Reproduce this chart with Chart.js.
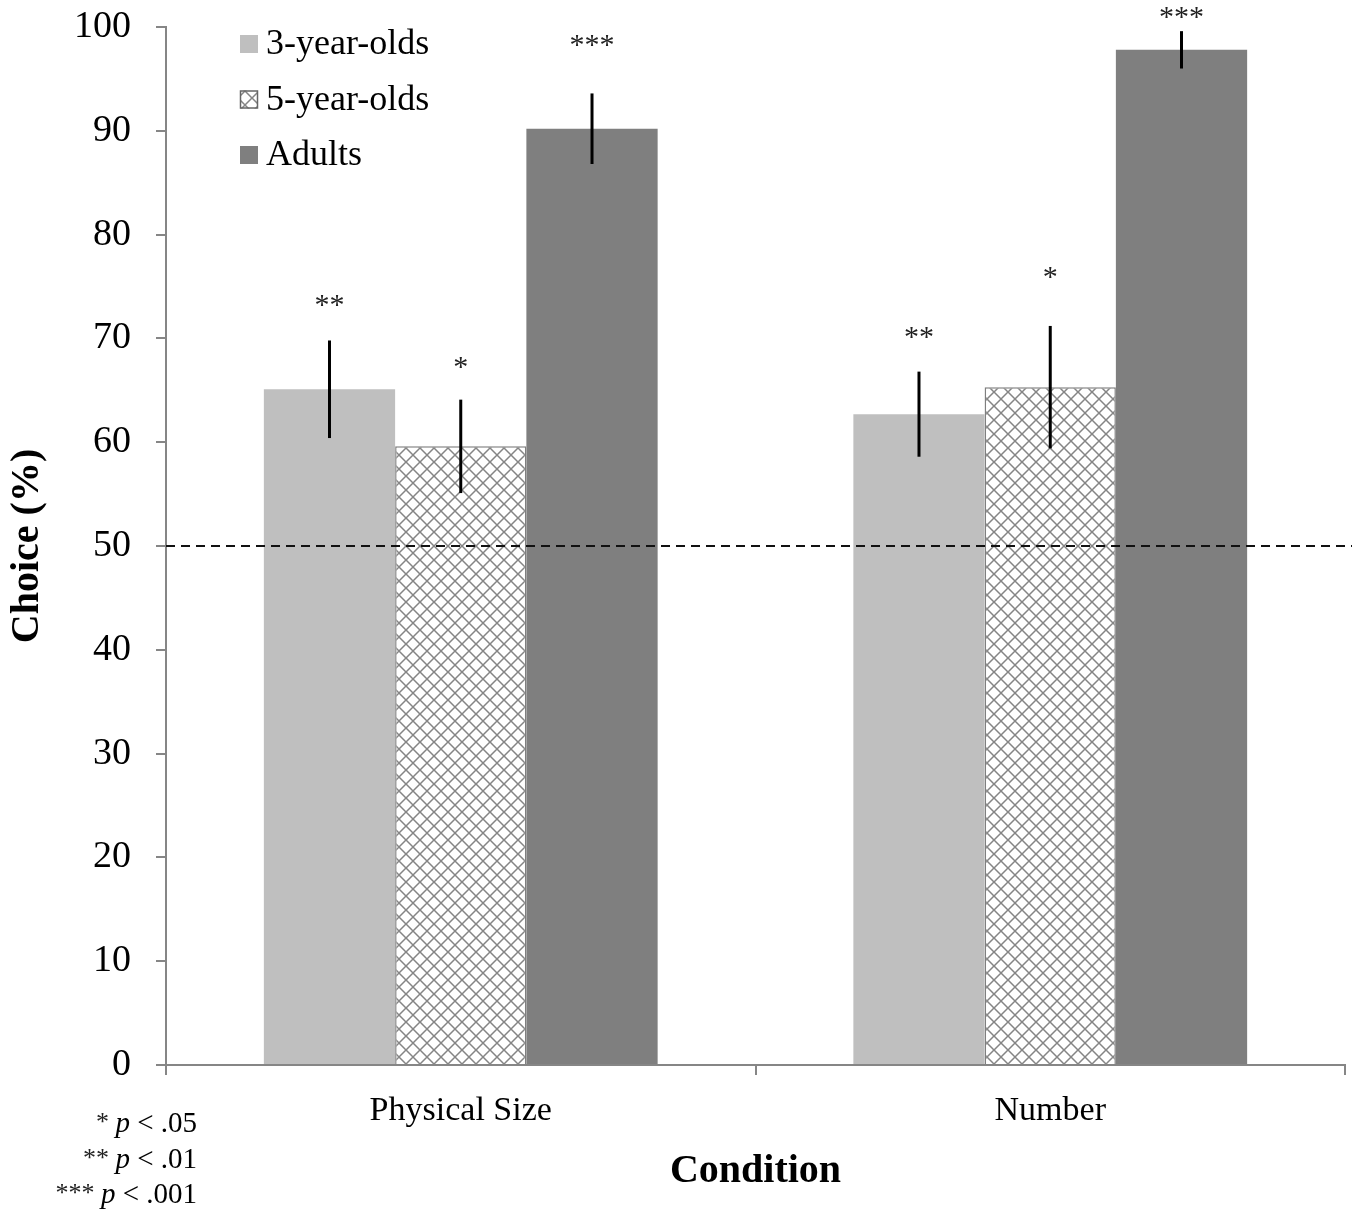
<!DOCTYPE html>
<html>
<head>
<meta charset="utf-8">
<script src="https://cdn.jsdelivr.net/npm/chart.js@4.4.1/dist/chart.umd.min.js"></script>
<style>
  html, body { margin: 0; padding: 0; background: #fff; }
  #wrap { width: 1360px; height: 1216px; }
</style>
</head>
<body>
<div id="wrap"><canvas id="c" width="1360" height="1216"></canvas></div>
<script>
// data
const conditions = ['Physical Size', 'Number'];
const groupNames = ['3-year-olds', '5-year-olds', 'Adults'];
const choice3 = [65.1, 62.7];
const choice5 = [59.6, 65.3];
const choiceAdults = [90.2, 97.8];
const err3 = [4.7, 4.1];
const err5 = [4.5, 5.9];
const errAdults = [3.4, 1.8];
const sig3 = ['**', '**'];
const sig5 = ['*', '*'];
const sigAdults = ['***', '***'];
// level (in %) where the significance stars sit
const sigLevel3 = [73.8, 70.7];
const sigLevel5 = [67.8, 76.5];
const sigLevelAdults = [98.8, 101.5];
const chanceLevel = 50;
const footStars = ['*', '**', '***'];
const footP = ['.05', '.01', '.001'];

const SERIF = '"Liberation Serif", "DejaVu Serif", serif';

function makeHatch() {
  const c = document.createElement('canvas');
  c.width = 14; c.height = 14;
  const g = c.getContext('2d');
  g.fillStyle = '#fff';
  g.fillRect(0, 0, 14, 14);
  g.strokeStyle = '#858585';
  g.lineWidth = 1.5;
  g.beginPath();
  g.moveTo(-1, -1); g.lineTo(15, 15);
  g.moveTo(15, -1); g.lineTo(-1, 15);
  g.stroke();
  return g.createPattern(c, 'repeat');
}
const hatch = makeHatch();

const errorBars = {
  id: 'errorBars',
  afterDatasetsDraw(chart) {
    const { ctx, scales: { y }, chartArea } = chart;
    // chance line
    const y50 = y.getPixelForValue(chanceLevel);
    ctx.save();
    ctx.strokeStyle = '#111';
    ctx.lineWidth = 2;
    ctx.setLineDash([9, 6]);
    ctx.beginPath();
    ctx.moveTo(chartArea.left, y50);
    ctx.lineTo(chartArea.right + 7, y50);
    ctx.stroke();
    ctx.restore();

    ctx.save();
    chart.data.datasets.forEach((ds, di) => {
      const meta = chart.getDatasetMeta(di);
      meta.data.forEach((bar, i) => {
        const v = ds.data[i], e = ds.err[i];
        ctx.strokeStyle = '#000';
        ctx.lineWidth = 3;
        ctx.beginPath();
        ctx.moveTo(bar.x, y.getPixelForValue(v + e));
        ctx.lineTo(bar.x, y.getPixelForValue(v - e));
        ctx.stroke();
        ctx.fillStyle = '#222';
        ctx.font = '30px ' + SERIF;
        ctx.textAlign = 'center';
        ctx.textBaseline = 'alphabetic';
        ctx.fillText(ds.sig[i], bar.x, y.getPixelForValue(ds.sigLevel[i]) + 15);
      });
    });
    ctx.restore();
  }
};

const sideText = {
  id: 'sideText',
  afterDraw(chart) {
    const { ctx } = chart;
    ctx.save();
    // legend
    ctx.textBaseline = 'middle';
    ctx.textAlign = 'left';
    ctx.font = '36px ' + SERIF;
    chart.data.datasets.forEach((ds, i) => {
      const cy = 44 + i * 55.5;
      ctx.fillStyle = ds.backgroundColor;
      ctx.fillRect(240, cy - 9, 18, 18);
      if (ds.borderWidth) {
        ctx.strokeStyle = '#666';
        ctx.lineWidth = 1.5;
        ctx.strokeRect(240.5, cy - 8.5, 17, 17);
      }
      ctx.fillStyle = '#000';
      ctx.fillText(ds.label, 266, cy + 1);
    });
    // footnotes
    ctx.textBaseline = 'alphabetic';
    const fs = 29;
    footStars.forEach((s, i) => {
      const by = 1132 + i * 35.5;
      let x = 197;
      const rest = ' < ' + footP[i];
      ctx.font = fs + 'px ' + SERIF;
      ctx.fillStyle = '#000';
      ctx.textAlign = 'right';
      ctx.fillText(rest, x, by);
      x -= ctx.measureText(rest).width;
      ctx.font = 'italic ' + fs + 'px ' + SERIF;
      ctx.fillText('p', x, by);
      x -= ctx.measureText('p').width;
      ctx.font = '26px ' + SERIF;
      ctx.fillStyle = '#222';
      ctx.fillText(s + ' ', x, by - 2);
    });
    ctx.restore();
  }
};

new Chart(document.getElementById('c'), {
  type: 'bar',
  data: {
    labels: conditions,
    datasets: [
      { label: groupNames[0], data: choice3, err: err3, sig: sig3, sigLevel: sigLevel3,
        backgroundColor: '#bfbfbf', borderWidth: 0 },
      { label: groupNames[1], data: choice5, err: err5, sig: sig5, sigLevel: sigLevel5,
        backgroundColor: hatch, borderColor: '#7f7f7f', borderWidth: 1.5 },
      { label: groupNames[2], data: choiceAdults, err: errAdults, sig: sigAdults, sigLevel: sigLevelAdults,
        backgroundColor: '#7f7f7f', borderWidth: 0 }
    ]
  },
  options: {
    responsive: false,
    animation: false,
    devicePixelRatio: 1,
    layout: { padding: { top: 27, right: 15, left: 0, bottom: 0 } },
    datasets: { bar: { categoryPercentage: 0.668, barPercentage: 1.0 } },
    plugins: { legend: { display: false }, tooltip: { enabled: false } },
    scales: {
      x: {
        afterFit: s => { s.height = 151; s.paddingLeft = 0; s.paddingRight = 0; },
        grid: { offset: true, drawOnChartArea: false, tickLength: 10, color: '#868686', lineWidth: 2 },
        border: { color: '#868686', width: 2 },
        ticks: { color: '#000', padding: 16, font: { family: SERIF, size: 34 } },
        title: { display: true, text: 'Condition', color: '#000',
                 font: { family: SERIF, size: 40, weight: 'bold' }, padding: { bottom: 20 } }
      },
      y: {
        min: 0, max: 100,
        afterFit: s => { s.width = 166; s.paddingTop = 0; s.paddingBottom = 0; },
        grid: { drawOnChartArea: false, tickLength: 10, color: '#868686', lineWidth: 2 },
        border: { color: '#868686', width: 2 },
        ticks: { stepSize: 10, color: '#000', padding: 25, font: { family: SERIF, size: 38 } },
        title: { display: true, text: 'Choice (%)', color: '#000',
                 font: { family: SERIF, size: 40, weight: 'bold' }, padding: { top: 4 } }
      }
    }
  },
  plugins: [errorBars, sideText]
});
</script>
</body>
</html>
